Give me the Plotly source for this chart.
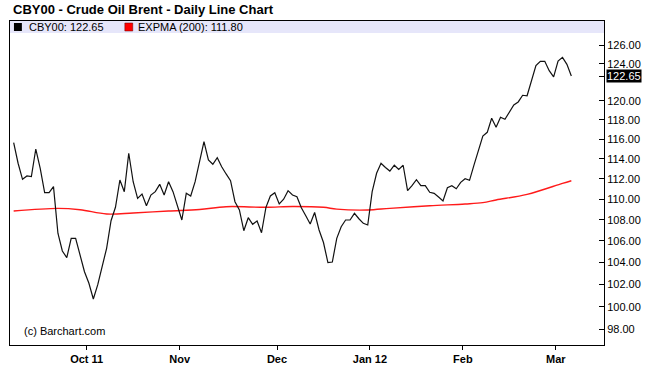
import math
import plotly.graph_objects as go

# Daily closes, Sep 8 2011 .. Mar 6 2012 (trading days)
close = [115.63, 113.54, 111.94, 112.27, 112.20, 114.98, 113.03, 110.62, 110.62, 111.21,
         106.72, 105.06, 104.44, 106.24, 106.24, 104.59, 103.15, 102.10, 100.69, 101.97,
         103.55, 105.31, 107.91, 109.20, 111.87, 110.72, 114.55, 111.70, 110.07, 110.49,
         109.35, 110.39, 110.72, 111.44, 110.39, 111.70, 110.72, 109.42, 107.98, 110.56,
         110.30, 111.70, 113.70, 115.73, 113.87, 113.44, 114.10, 113.19, 112.47, 111.80,
         109.74, 108.94, 106.96, 108.20, 107.57, 107.88, 106.77, 109.20, 110.30, 110.62,
         109.52, 109.98, 110.82, 110.39, 110.23, 109.15, 108.38, 107.60, 108.70, 107.03,
         105.85, 103.99, 104.04, 106.24, 107.34, 107.98, 107.98, 108.62, 108.10, 107.66,
         107.50, 110.72, 112.54, 113.54, 113.11, 112.76, 113.34, 112.93, 113.34, 110.82,
         111.31, 111.90, 111.31, 111.31, 110.66, 110.56, 110.20, 109.81, 111.11, 111.31,
         111.01, 111.64, 112.00, 111.84, 113.36, 114.95, 116.31, 116.69, 118.15, 117.21,
         118.25, 118.04, 118.78, 119.55, 119.87, 120.58, 120.53, 122.22, 123.78, 124.26,
         124.26, 123.23, 122.55, 124.29, 124.70, 123.93, 122.65]

# EXPMA(200) readings: trading-day index and value
ema_day = [0, 10, 15, 21, 27, 35, 42, 48, 57, 63, 70, 73, 80, 85, 94, 102, 106, 109, 116, 124, 126]
ema_val = [108.84, 109.10, 108.97, 108.55, 108.65, 108.84, 108.99, 109.26, 109.20, 109.28,
           109.20, 109.02, 108.94, 109.10, 109.35, 109.52, 109.65, 109.91, 110.46, 111.54, 111.80]

month_labels = ["Oct 11", "Nov", "Dec", "Jan 12", "Feb", "Mar"]
month_pos = [16.5, 37.5, 59.5, 80.5, 101.5, 122.5]
y_ticks = [98, 100, 102, 104, 106, 108, 110, 112, 114, 116, 118, 120, 124, 126]

last_close = close[-1]
last_ema = ema_val[-1]

FONT = "Liberation Sans, Arial, Helvetica, sans-serif"
days = list(range(len(close)))

fig = go.Figure()
fig.add_trace(go.Scatter(x=ema_day, y=ema_val, mode="lines",
                         line=dict(color="#ff1a1a", width=1.4, shape="spline", smoothing=1.0),
                         hoverinfo="skip", showlegend=False))
fig.add_trace(go.Scatter(x=days, y=close, mode="lines",
                         line=dict(color="#111111", width=1.2),
                         showlegend=False))

tv = y_ticks + [last_close]
tt = ["%.2f" % v for v in y_ticks] + [""]

W, H = 650, 386
# plot box in page pixels: left 9, right 609, top 21, bottom 345
PL, PR, PT, PB = 9, 609, 21, 345
pw, ph = PR - PL, PB - PT

def px(x):
    return (x - PL) / pw

def py(y):
    return (PB - y) / ph

fig.update_layout(
    width=W, height=H, autosize=False,
    margin=dict(l=PL, r=W - PR, t=PT, b=H - PB, pad=0),
    paper_bgcolor="white", plot_bgcolor="white",
    font=dict(family=FONT, size=11, color="black"),
    xaxis=dict(range=[-0.828, 133.38], showgrid=False, zeroline=False,
               showline=True, linecolor="black", linewidth=1, mirror=True,
               ticks="outside", ticklen=4, tickcolor="black",
               tickvals=month_pos, ticktext=["<b>%s</b>" % s for s in month_labels],
               tickfont=dict(family=FONT, size=11, color="black")),
    yaxis=dict(type="log", range=[1.98530, 2.10982], side="right",
               showgrid=False, zeroline=False,
               showline=True, linecolor="black", linewidth=1, mirror=True,
               ticks="inside", ticklen=5, tickcolor="black",
               tickvals=tv, ticktext=tt,
               tickfont=dict(family=FONT, size=11, color="black")),
    shapes=[
        dict(type="rect", xref="paper", yref="paper", x0=0, x1=1, y0=py(33), y1=1,
             fillcolor="#e6e6fa", line=dict(width=0), layer="below"),
        dict(type="rect", xref="paper", yref="paper", x0=px(13), x1=px(21), y0=py(31), y1=py(23),
             fillcolor="black", line=dict(width=0)),
        dict(type="rect", xref="paper", yref="paper", x0=px(125), x1=px(133), y0=py(31), y1=py(23),
             fillcolor="#ff0000", line=dict(color="#660000", width=0.5)),
    ],
    annotations=[
        dict(text="<b>CBY00 - Crude Oil Brent - Daily Line Chart</b>", xref="paper", yref="paper",
             x=px(10), y=py(9), xanchor="left", yanchor="middle", showarrow=False,
             font=dict(family=FONT, size=13, color="black")),
        dict(text="CBY00: %.2f" % last_close, xref="paper", yref="paper",
             x=px(26), y=py(27), xanchor="left", yanchor="middle", showarrow=False,
             font=dict(family=FONT, size=11, color="black")),
        dict(text="EXPMA (200): %.2f" % last_ema, xref="paper", yref="paper",
             x=px(136), y=py(27), xanchor="left", yanchor="middle", showarrow=False,
             font=dict(family=FONT, size=11, color="black")),
        dict(text="(c) Barchart.com", xref="paper", yref="paper",
             x=px(21), y=py(331), xanchor="left", yanchor="middle", showarrow=False,
             font=dict(family=FONT, size=11, color="black")),
        dict(text="%.2f" % last_close, xref="paper", yref="y",
             x=1, y=math.log10(last_close), xanchor="left", yanchor="middle", xshift=2,
             showarrow=False, bgcolor="black", borderpad=0,
             font=dict(family=FONT, size=11, color="white")),
    ],
)

fig.write_html("out.html", config={"displayModeBar": False, "responsive": False},
               post_script="document.body.style.margin='0px';document.body.style.overflow='hidden';")
